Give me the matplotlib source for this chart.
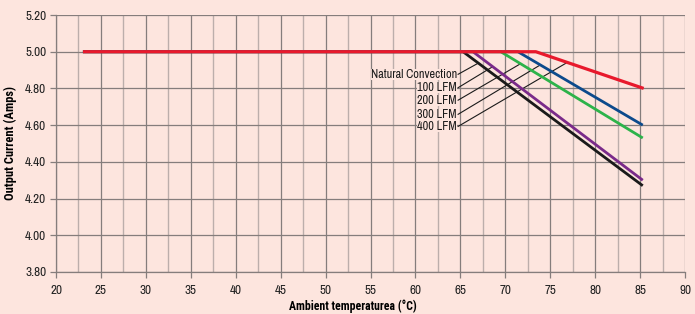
"""
Output current derating curve vs ambient temperature
"""
import os
import numpy as np
import matplotlib
matplotlib.use('Agg')
import matplotlib.pyplot as plt
from matplotlib import font_manager as fm
from matplotlib.ticker import MultipleLocator

# condensed font, take the first one that is installed
installed = {f.name for f in fm.fontManager.ttflist}
candidates = ['Liberation Sans Narrow', 'Arial Narrow', 'Archivo Narrow', 'Roboto Condensed',
              'Nimbus Sans Narrow', 'PT Sans Narrow', 'Fira Sans Condensed', 'Liberation Sans']
found = [c for c in candidates if c in installed]
narrow = found[:1]
plt.rcParams['font.family'] = narrow + ['DejaVu Sans']

# for bold axis titles, a condensed font that really has a bold face
bold_family = None
for c in found:
    path = fm.findfont(fm.FontProperties(family=c, weight='bold'), fallback_to_default=False)
    if 'bold' in os.path.basename(path).lower():
        bold_family = c
        break
bold_family = [bold_family] if bold_family else ['Liberation Sans']

# airflow curves: (temperature, current) knee points
labels = ['Natural Convection', '100 LFM', '200 LFM', '300 LFM', '400 LFM']
temps = [
    [23.0, 65.3, 85.3],   # natural convection
    [23.0, 66.4, 85.3],   # 100 LFM
    [23.0, 69.5, 85.3],   # 200 LFM
    [23.0, 71.4, 85.3],   # 300 LFM
    [23.0, 73.4, 85.4],   # 400 LFM
]
currents = [
    [5.00, 5.00, 4.27],
    [5.00, 5.00, 4.30],
    [5.00, 5.00, 4.53],
    [5.00, 5.00, 4.60],
    [5.00, 5.00, 4.80],
]
colors = ['#1a1a1a', '#7a2a8a', '#2db34a', '#0c4a8c', '#e8192c']

# label anchors and where each leader line meets its curve
label_x = 64.6
label_y = [4.877, 4.804, 4.736, 4.659, 4.593]
leader_end_x = [67.0, 68.6, 71.7, 73.9, 76.9]

bg = '#fde5de'
major_grid = '#857d7c'
minor_grid = '#bcaeab'

fig = plt.figure(figsize=(6.95, 3.14), dpi=100, facecolor=bg)
ax = fig.add_axes([56 / 695, 1 - 272 / 314, 629 / 695, 257 / 314])
ax.set_facecolor(bg)

ax.set_xlim(20, 90)
ax.set_ylim(3.80, 5.20)
ax.xaxis.set_major_locator(MultipleLocator(5))
ax.xaxis.set_minor_locator(MultipleLocator(2.5))
ax.yaxis.set_major_locator(MultipleLocator(0.2))
ax.yaxis.set_major_formatter(plt.FuncFormatter(lambda v, p: f'{v:.2f}'))

ax.grid(True, which='minor', axis='x', color=minor_grid, linewidth=1.0)
ax.grid(True, which='major', axis='both', color=major_grid, linewidth=0.9)
ax.set_axisbelow(True)

for side in ['top', 'right']:
    ax.spines[side].set_visible(False)
for side in ['left', 'bottom']:
    ax.spines[side].set_color(major_grid)
    ax.spines[side].set_linewidth(0.9)

ax.tick_params(axis='both', which='major', length=4, width=0.9, color=major_grid,
               labelsize=9.5, labelcolor='#222222', pad=3)
ax.tick_params(axis='x', which='minor', length=0)
ax.tick_params(axis='x', which='major', pad=5)

for t, c, col in zip(temps, currents, colors):
    lw = 2.3 if col == '#e8192c' else 2.0
    ax.plot(t, c, color=col, linewidth=lw, solid_capstyle='butt', zorder=3)

# leader lines + labels
for lab, ly, ex, t, c in zip(labels, label_y, leader_end_x, temps, currents):
    ey = np.interp(ex, t, c)
    ax.plot([label_x + 0.15, ex], [ly, ey], color='#1a1a1a', linewidth=0.8, zorder=2)
    ax.text(label_x, ly, lab, ha='right', va='center', fontsize=8.8, color='#1a1a1a',
            bbox=dict(facecolor=bg, edgecolor='none', pad=0.0), zorder=4)

ax.set_ylabel('Output Current (Amps)', fontsize=9, fontweight='bold', labelpad=6,
              family=bold_family + ['DejaVu Sans'])
ax.set_xlabel('Ambient temperaturea (°C)', fontsize=8.5, fontweight='bold', labelpad=3,
              family=bold_family + ['DejaVu Sans'])
ax.xaxis.set_label_coords(0.472, -0.107)

fig.savefig('out.png', dpi=100, facecolor=bg)
